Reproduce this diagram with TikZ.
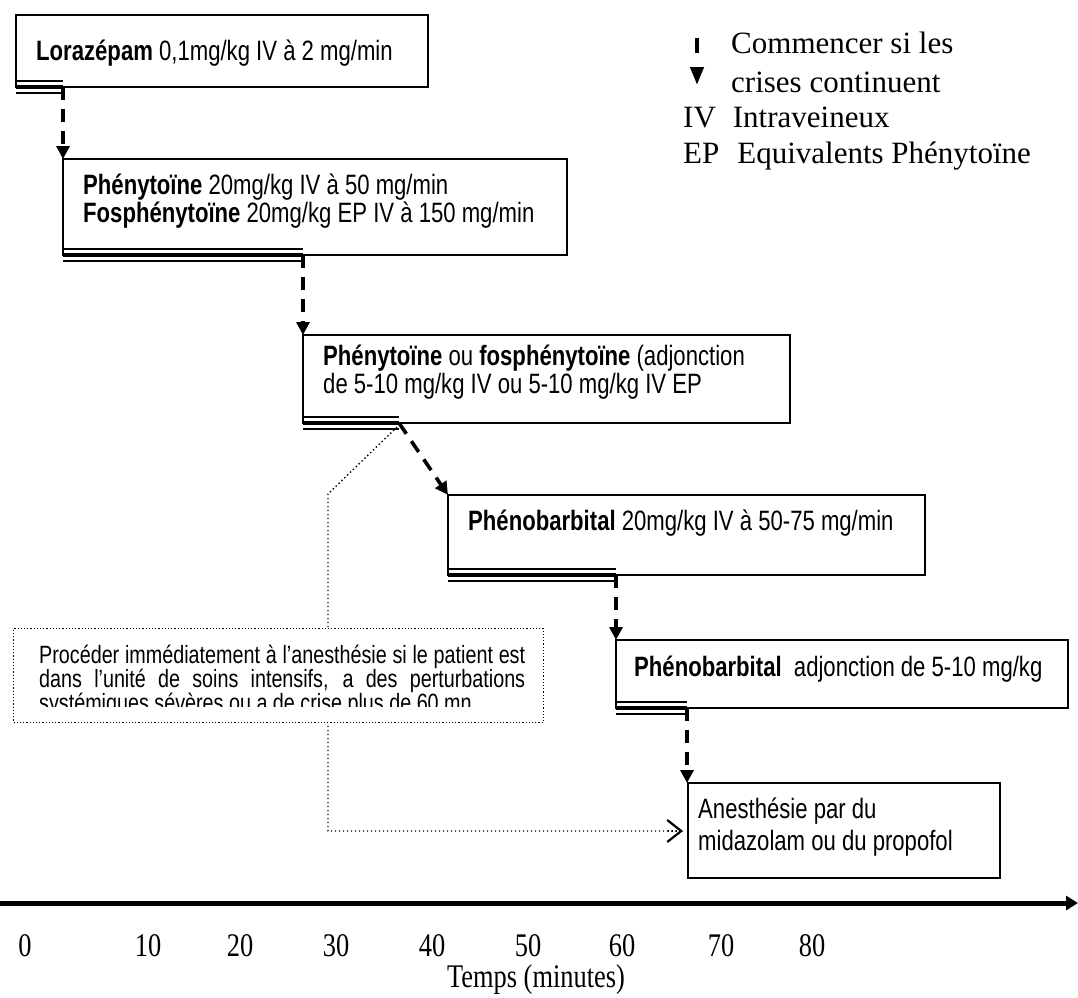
\documentclass[tikz,border=0pt]{standalone}
\usepackage{fontspec}
\setmainfont{Liberation Serif}
\newfontfamily\boxfont{Liberation Sans}[FakeStretch=0.79]
\newfontfamily\axfont{Liberation Serif}[FakeStretch=0.8]
\usetikzlibrary{arrows.meta}
\tikzset{
  box/.style={draw, line width=2.2pt, fill=white, anchor=north west, inner sep=0pt, outer sep=0pt},
  btext/.style={anchor=base west, inner sep=0pt, font=\boxfont\fontsize{28}{32}\selectfont},
  dtext/.style={anchor=base west, inner sep=0pt, text width=486pt, align=justify, font=\boxfont\fontsize{25}{24}\selectfont},
  darrow/.style={line width=3.6pt, dash pattern=on 13pt off 9pt, -{Triangle[width=13pt,length=13pt]}},
  dotl/.style={line width=1.4pt, dash pattern=on 1.4pt off 2.6pt},
  dotbox/.style={line width=1.2pt, dash pattern=on 1.2pt off 2pt, fill=white},
  thinl/.style={line width=1.8pt},
  thickl/.style={line width=4pt},
  axlab/.style={font=\axfont\fontsize{33}{36}\selectfont, anchor=base, inner sep=0pt},
  leg/.style={font=\fontsize{31}{36}\selectfont, anchor=base west, inner sep=0pt},
}
\begin{document}
\begin{tikzpicture}[x=1pt,y=-1pt]
\useasboundingbox (0,0) rectangle (1078,997);

% legend
\draw[line width=4pt, dash pattern=on 15pt off 14pt, -{Triangle[width=13pt,length=18pt]}] (697,38) coordinate (la) -- (697,85) coordinate (lb);
\node[leg] (l1) at (731,53) {Commencer si les};
\node[leg] (l2) at (731,92) {crises continuent};
\node[leg] (l3) at (683,127) {IV\hspace{17pt}Intraveineux};
\node[leg] (l4) at (683,163) {EP\hspace{18pt}Equivalents Phénytoïne};

% dotted path (behind boxes)
\coordinate (d0) at (397,427);
\coordinate (d1) at (328,494);
\coordinate (d2) at (328,831);

% boxes
\node[box, minimum width=412pt, minimum height=72pt] (b1) at (16,15) {};
\node[box, minimum width=504pt, minimum height=96pt] (b2) at (63,159) {};
\node[box, minimum width=487pt, minimum height=88pt] (b3) at (303,335) {};
\node[box, minimum width=477pt, minimum height=80pt] (b4) at (448,495) {};
\node[box, minimum width=452pt, minimum height=68pt] (b5) at (616,640) {};
\node[box, minimum width=312pt, minimum height=95pt] (b6) at (688,783) {};

\draw[dotl] (d0) -- (d1) -- (d2) -- ([xshift=-5pt]b6.west |- d2);
\draw[dotl, -{Straight Barb[length=14pt,width=22pt,line width=2.2pt]}] ([xshift=-20pt]b6.west |- d2) -- ([xshift=-5pt]b6.west |- d2);

\node[dotbox, draw, anchor=north west, minimum width=530pt, minimum height=94pt, inner sep=0pt] (db) at (13,628) {};
\begin{scope}
\clip (13,628) rectangle (543,706);
\node[dtext] (dt1) at (39,663) {Procéder immédiatement à l’anesthésie si le patient est\linebreak dans l’unité de soins intensifs, a des perturbations\linebreak systémiques sévères ou a de crise plus de 60 mn};
\end{scope}

% texts
\node[btext] (t1) at (36,60) {\textbf{Lorazépam} 0,1mg/kg IV à 2 mg/min};
\node[btext] (t2a) at (83,194) {\textbf{Phénytoïne} 20mg/kg IV à 50 mg/min};
\node[btext] (t2b) at (83,222) {\textbf{Fosphénytoïne} 20mg/kg EP IV à 150 mg/min};
\node[btext] (t3a) at (323,365) {\textbf{Phénytoïne} ou \textbf{fosphénytoïne} (adjonction};
\node[btext] (t3b) at (323,393) {de 5-10 mg/kg IV ou 5-10 mg/kg IV EP};
\node[btext] (t4) at (468,530) {\textbf{Phénobarbital} 20mg/kg IV à 50-75 mg/min};
\node[btext] (t5) at (634,676) {\textbf{Phénobarbital}\ \ adjonction de 5-10 mg/kg};
\node[btext] (t6a) at (698,818) {Anesthésie par du};
\node[btext] (t6b) at (698,850) {midazolam ou du propofol};

% arrow start points
\coordinate (k1) at (b1.south west -| b2.north west);
\coordinate (k2) at (b2.south west -| b3.north west);
\coordinate (k3) at (399,423);
\coordinate (k4) at (b4.south west -| b5.north west);
\coordinate (k5) at (687,708);

% triple lines
\foreach \b/\k in {b1/k1,b2/k2,b3/k3,b4/k4,b5/k5}{
  \draw[thinl] ([yshift=6pt]\b.south west) -- ([yshift=6pt]\b.south west -| \k);
  \draw[thickl] (\b.south west) -- (\b.south west -| \k);
  \draw[thinl] ([yshift=-6pt]\b.south west) -- ([yshift=-6pt]\b.south west -| \k);
}

% dashed arrows
\draw[darrow] (k1) -- (b2.north west);
\draw[darrow] (k2) -- (b3.north west);
\draw[darrow] (k3) -- (b4.north west);
\draw[darrow] (k4) -- (b5.north west);
\draw[darrow] (k5) -- (k5 |- b6.north);

% axis
\coordinate (ax0) at (0,903);
\coordinate (ax1) at (1078,903);
\draw[line width=5pt, -{Triangle[width=14pt,length=12pt]}] (ax0) -- (ax1);
\foreach \v/\x in {0/25,10/148,20/240,30/336,40/432,50/528,60/622,70/721,80/812}{
  \node[axlab] (n\v) at (\x,956) {\v};
}
\node[axlab] (tl) at (536,987) {Temps (minutes)};
\end{tikzpicture}
\end{document}
